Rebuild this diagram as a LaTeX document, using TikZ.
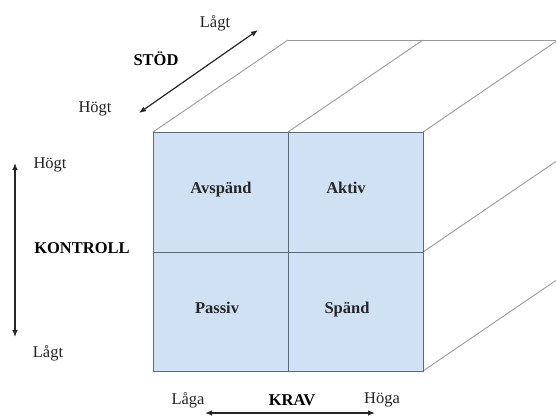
\documentclass[tikz,border=0pt]{standalone}
\usepackage{fontspec}
\setmainfont{Liberation Serif}
\usetikzlibrary{arrows.meta}
\definecolor{facefill}{HTML}{CFE1F2}
\definecolor{faceline}{HTML}{5E6A78}
\definecolor{edgegray}{HTML}{9A9A9A}
\definecolor{txt}{HTML}{222222}
\tikzset{
  lbl/.style={font=\fontsize{16.5}{19}\selectfont, text=txt, inner sep=0pt},
  axislbl/.style={lbl, font=\fontsize{16.5}{19}\selectfont\bfseries, text=black},
  celllbl/.style={lbl, anchor=base, font=\fontsize{16.5}{19}\selectfont\bfseries, text=black!85},
  axisarrow/.style={line width=1.2pt, black!85, {Latex[length=7pt,width=5.5pt]}-{Latex[length=7pt,width=5.5pt]}},
  backedge/.style={edgegray, line width=0.9pt},
  facegrid/.style={faceline, line width=0.9pt}
}
\begin{document}
\begin{tikzpicture}[x=1pt, y=-1pt]
\useasboundingbox (0,0) rectangle (556,416);
\clip (0,0) rectangle (556,416);

% front face corners and depth offset
\coordinate (FTL) at (153,132);
\coordinate (FTM) at (288,132);
\coordinate (FTR) at (423,132);
\coordinate (FMR) at (423,252);
\coordinate (FBR) at (423,371);
\def\dx{135}
\def\dy{-92}

% receding edges of the block
\draw[backedge] (FTL) -- ++(\dx,\dy) coordinate (BTL);
\draw[backedge] (FTM) -- ++(\dx,\dy) coordinate (BTM);
\draw[backedge] (FTR) -- ++(\dx,\dy) coordinate (BTR);
\draw[backedge] (FMR) -- ++(\dx,\dy);
\draw[backedge] (FBR) -- ++(\dx,\dy);
\draw[backedge] (BTL) -- (BTR) -- ++(0,300);

% front face: four quadrants
\fill[facefill] (153,132) rectangle (423,371);
\draw[facegrid] (153,132) rectangle (423,371);
\draw[facegrid] (288,132) -- (288,371);
\draw[facegrid] (153,252) -- (423,252);

\node[celllbl] (avspand) at (221,193) {Avspänd};
\node[celllbl] (aktiv)   at (346,193) {Aktiv};
\node[celllbl] (passiv)  at (217,313) {Passiv};
\node[celllbl] (spand)   at (347,313) {Spänd};

% STÖD axis
\coordinate (stodA) at (139,113);
\coordinate (stodB) at (258,30);
\draw[axisarrow] (stodA) -- (stodB);
\node[lbl] (stodlo) at (215,23) {Lågt};
\node[axislbl] (stod) at (156,59) {STÖD};
\node[lbl] (stodhi) at (95,109) {Högt};

% KONTROLL axis
\coordinate (kontA) at (15,163);
\coordinate (kontB) at (15,337);
\draw[axisarrow] (kontA) -- (kontB);
\node[lbl] (konthi) at (50,165) {Högt};
\node[axislbl] (kontroll) at (82,248) {KONTROLL};
\node[lbl] (kontlo) at (48,353) {Lågt};

% KRAV axis
\coordinate (kravA) at (205,413);
\coordinate (kravB) at (375,413);
\draw[axisarrow] (kravA) -- (kravB);
\node[lbl] (kravlo) at (188,400) {Låga};
\node[axislbl] (krav) at (292,400) {KRAV};
\node[lbl] (kravhi) at (382,400) {Höga};
\end{tikzpicture}
\end{document}
